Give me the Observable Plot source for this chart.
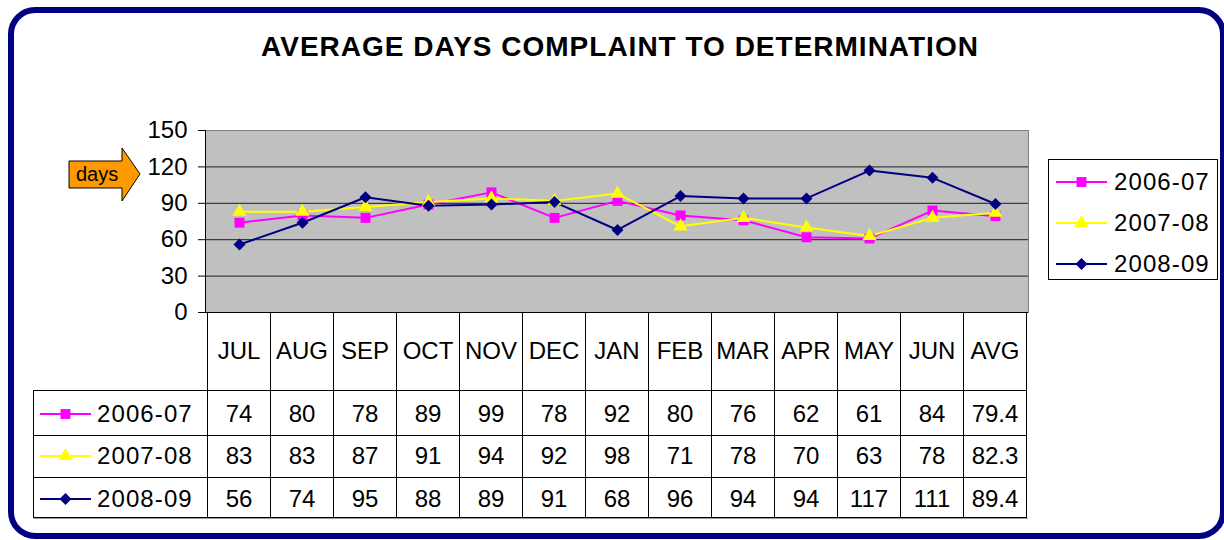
<!DOCTYPE html>
<html>
<head>
<meta charset="utf-8">
<script src="https://cdn.jsdelivr.net/npm/d3@7"></script>
<script src="https://cdn.jsdelivr.net/npm/@observablehq/plot@0.6"></script>
<style>
  html, body { margin: 0; padding: 0; background: #fff; }
  body { font-family: Arial, "Liberation Sans", sans-serif; }
  #wrap { position: relative; width: 1224px; height: 540px; overflow: hidden; background: #fff; }
  #wrap > * { position: absolute; }
  .t24 { font-size: 24px; line-height: 24px; color: #000; white-space: nowrap; }
</style>
</head>
<body>
<div id="wrap"></div>
<script>
// ---- data ----
const months = ["JUL","AUG","SEP","OCT","NOV","DEC","JAN","FEB","MAR","APR","MAY","JUN","AVG"];
const series = ["2006-07","2007-08","2008-09"];
const values0607 = [74, 80, 78, 89, 99, 78, 92, 80, 76, 62, 61, 84, 79.4];
const values0708 = [83, 83, 87, 91, 94, 92, 98, 71, 78, 70, 63, 78, 82.3];
const values0809 = [56, 74, 95, 88, 89, 91, 68, 96, 94, 94, 117, 111, 89.4];
const yTicks = [0, 30, 60, 90, 120, 150];
const titleText = "AVERAGE DAYS COMPLAINT TO DETERMINATION";
const unitText = "days";

const seriesValues = [values0607, values0708, values0809];
const colors = ["#FF00FF", "#FFFF00", "#000080"];
const symbols = ["square", "triangle", "diamond2"];
const symbolR = [5.6, 5.2, 5.4];

const data = series.flatMap((s, i) => months.map((m, j) => ({series: s, month: m, value: seriesValues[i][j]})));

const wrap = document.getElementById("wrap");

const plot = Plot.plot({
  width: 1224,
  height: 540,
  marginLeft: 205,
  marginRight: 196,
  marginTop: 130,
  marginBottom: 228,
  style: {background: "transparent", fontFamily: "Arial, 'Liberation Sans', sans-serif", overflow: "visible"},
  x: {type: "point", domain: months, padding: 0.5, axis: null},
  y: {domain: [0, 150], axis: null},
  color: {domain: series, range: colors},
  marks: [
    Plot.frame({fill: "#C0C0C0", stroke: "#808080"}),
    Plot.gridY(yTicks.filter(t => t > 0 && t < 150), {stroke: "#000", strokeOpacity: 0.85}),
    Plot.axisY(yTicks, {tickSize: 7, tickPadding: 11, fontSize: 24, label: null, stroke: "#000", color: "#000"}),
    Plot.frame({anchor: "left", stroke: "#000"}),
    Plot.ruleY([0], {stroke: "#000"}),
    Plot.line(data, {x: "month", y: "value", z: "series", stroke: "series", strokeWidth: 2}),
    ...series.map((s, i) => Plot.dot(data.filter(d => d.series === s), {
      x: "month", y: "value", fill: "series", symbol: symbols[i], r: symbolR[i]
    }))
  ]
});
plot.style.left = "0px";
plot.style.top = "0px";
wrap.appendChild(plot);

const xs = plot.scale("x");
const ys = plot.scale("y");
const step = xs.apply(months[1]) - xs.apply(months[0]);
const x0 = xs.apply(months[0]) - step / 2;
const x1 = x0 + step * months.length;
const yBase = ys.apply(0);

function el(tag, css, html) {
  const e = document.createElement(tag);
  Object.assign(e.style, css);
  if (html !== undefined) e.innerHTML = html;
  wrap.appendChild(e);
  return e;
}

// ---- outer rounded frame ----
el("div", {left: "8px", top: "7px", width: "1218px", height: "532px", border: "6px solid #000080",
  borderRadius: "27px", boxSizing: "border-box"});

// ---- title ----
el("div", {left: "0px", top: "33px", width: "1240px", textAlign: "center", fontWeight: "bold",
  fontSize: "28px", lineHeight: "28px", letterSpacing: "1px"}, titleText);

// ---- days arrow ----
const ns = "http://www.w3.org/2000/svg";
function svgEl(w, h, left, top) {
  const s = document.createElementNS(ns, "svg");
  s.setAttribute("width", w); s.setAttribute("height", h);
  s.style.position = "absolute"; s.style.left = left + "px"; s.style.top = top + "px"; s.style.overflow = "visible";
  wrap.appendChild(s);
  return s;
}
const arrow = svgEl(80, 60, 65, 145);
arrow.innerHTML = `<polygon points="4,16 57,16 57,3 75,29 57,56 57,43 4,43" fill="#FF9900" stroke="#000" stroke-width="1"/>
<text x="11" y="36" font-size="20" font-family="Arial, 'Liberation Sans', sans-serif">${unitText}</text>`;

// ---- symbol helper ----
function symbolPath(name, r) {
  const t = {square: d3.symbolSquare, triangle: d3.symbolTriangle, diamond2: d3.symbolDiamond2}[name];
  return d3.symbol(t, Math.PI * r * r)();
}
function keyGlyph(left, cy, i) {
  const s = svgEl(52, 20, left, cy - 10);
  s.innerHTML = `<line x1="0" y1="10" x2="51" y2="10" stroke="${colors[i]}" stroke-width="2"/>
  <path transform="translate(25.5,10)" d="${symbolPath(symbols[i], symbolR[i])}" fill="${colors[i]}"/>`;
}

// ---- legend ----
el("div", {left: "1048px", top: "159px", width: "170px", height: "121px", border: "1px solid #000",
  boxSizing: "border-box", background: "#fff"});
const legY = [182, 223, 264];
series.forEach((s, i) => {
  keyGlyph(1056, legY[i], i);
  el("div", {left: "1114px", top: (legY[i] - 12) + "px", letterSpacing: "1.1px"}, s).className = "t24";
});

// ---- data table ----
const lineC = "#000";
const hdrBottom = yBase + 78;
const rowEdges = [hdrBottom, hdrBottom + 45, hdrBottom + 87, hdrBottom + 127];
const rowCenters = [rowEdges[0] + 24, rowEdges[1] + 21, rowEdges[2] + 22];
// vertical column lines
for (let j = 0; j <= months.length; j++) {
  el("div", {left: (x0 + j * step - 0.5) + "px", top: yBase + "px", width: "1px",
    height: (rowEdges[3] - yBase) + "px", background: lineC});
}
// left box vertical
el("div", {left: "33px", top: rowEdges[0] + "px", width: "1px", height: (rowEdges[3] - rowEdges[0]) + "px", background: lineC});
// horizontal lines
rowEdges.forEach((y, k) => {
  el("div", {left: "33px", top: (y - 0.5) + "px", width: (x1 - 33) + "px", height: "1px", background: lineC});
});
el("div", {left: "34px", top: (rowEdges[3] + 0.5) + "px", width: (x1 - 33) + "px", height: "1px", background: "#999"});
// header labels
months.forEach((m, j) => {
  el("div", {left: (x0 + j * step) + "px", top: (yBase + 39 - 12) + "px", width: step + "px", textAlign: "center"}, m).className = "t24";
});
// rows
series.forEach((s, i) => {
  keyGlyph(40, rowCenters[i], i);
  el("div", {left: "97px", top: (rowCenters[i] - 12) + "px", letterSpacing: "1.1px"}, s).className = "t24";
  seriesValues[i].forEach((v, j) => {
    el("div", {left: (x0 + j * step) + "px", top: (rowCenters[i] - 12) + "px", width: step + "px", textAlign: "center"}, String(v)).className = "t24";
  });
});
</script>
</body>
</html>
